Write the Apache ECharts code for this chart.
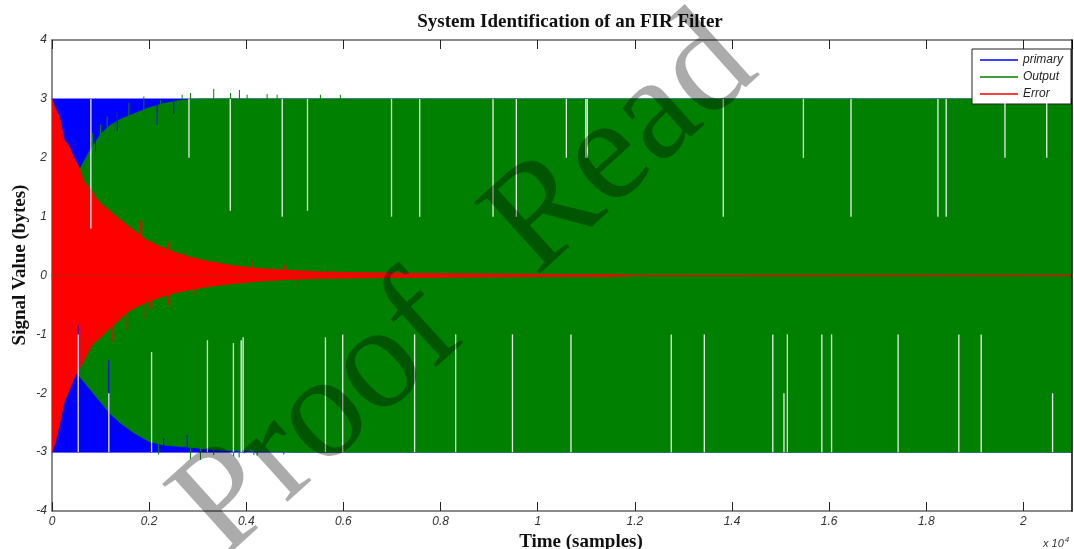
<!DOCTYPE html>
<html>
<head>
<meta charset="utf-8">
<script src="https://cdn.jsdelivr.net/npm/echarts@6/dist/echarts.min.js"></script>
<style>
html, body { margin: 0; padding: 0; background: #fff; }
#chart { width: 1074px; height: 549px; }
</style>
</head>
<body>
<div id="chart"></div>
<script>
// envelopes (x in samples, y in signal value)
var primaryTime = [0, 21000];
var primaryUpper = [3, 3];
var primaryLower = [-3, -3];
// single blue spikes poking into the other traces
var primaryHairTime = [539, 1169, 2301, 2782, 895, 1342, 2164, 2507];
var primaryHairTip = [-0.85, -1.44, -2.76, -2.71, 2.1, 2.45, 2.56, 2.75];

var outputTime = [0, 400, 600, 800, 1000, 1200, 1400, 1700, 2000, 2300, 2600, 3000, 3500, 5000, 21000];
var outputUpper = [0, 1.5, 1.85, 2.15, 2.4, 2.55, 2.65, 2.75, 2.85, 2.92, 2.97, 3.0, 3.0, 3.0, 3.0];
var outputLower = [0, -1.5, -1.75, -1.95, -2.15, -2.35, -2.5, -2.68, -2.82, -2.88, -2.9, -2.93, -2.97, -3.0, -3.0];
var outputHairTime = [837, 998, 1136, 1342, 1583, 1891, 2233, 2507, 2680, 2850, 3330, 3674, 3859, 4017, 4429, 4635, 5526, 5937,
  2195, 2850, 3056, 3330, 3740, 3853, 4156, 4223, 4772];
var outputHairTip = [2.42, 2.56, 2.7, 2.79, 2.93, 3.04, 2.98, 3.0, 3.07, 3.1, 3.17, 3.1, 3.15, 3.07, 3.08, 3.07, 3.07, 3.07,
  -3.04, -3.12, -3.13, -3.05, -3.07, -3.09, -3.05, -3.06, -3.04];

var errorTime = [0, 60, 150, 250, 350, 450, 550, 650, 800, 900, 1000, 1150, 1350, 1550, 1750, 1950, 2200, 2500, 2800, 3200, 3700, 4200, 4800, 5500, 6500, 8000, 10000, 11500, 12000, 21000];
var errorUpper = [3.0, 2.85, 2.7, 2.3, 2.2, 2.0, 1.85, 1.6, 1.45, 1.32, 1.22, 1.12, 0.98, 0.85, 0.72, 0.6, 0.5, 0.4, 0.32, 0.24, 0.17, 0.12, 0.09, 0.06, 0.045, 0.03, 0.02, 0.015, 0.006, 0.006];
var errorLower = [-3.0, -2.85, -2.55, -2.15, -1.95, -1.75, -1.6, -1.45, -1.2, -1.12, -1.05, -0.92, -0.78, -0.62, -0.53, -0.45, -0.38, -0.3, -0.25, -0.19, -0.14, -0.1, -0.07, -0.05, -0.04, -0.03, -0.02, -0.015, -0.006, -0.006];
var errorHairTime = [1821, 2130, 2395, 2716, 3405, 4140, 4785, 5793, 1239, 1547, 1890, 2027, 2395, 2945, 3860, 5050];
var errorHairTip = [0.93, 0.62, 0.56, 0.41, 0.27, 0.24, 0.18, 0.16, -1.13, -0.93, -0.74, -0.56, -0.5, -0.33, -0.21, -0.15];

// white dropouts in the plotted signal
var topGapTime = [800, 2820, 3670, 4740, 5260, 6990, 7570, 9080, 9560, 10590, 10990, 11020, 13820, 15470, 16450, 18240, 18410, 19620, 20480];
var topGapEnd = [0.8, 2, 1.1, 1, 1.1, 1, 1, 1, 1, 2, 2, 2, 1, 2, 1, 1, 1, 2, 2];
var bottomGapTime = [540, 1170, 2050, 3200, 3735, 3895, 3935, 5630, 5985, 7465, 8310, 9480, 10685, 12750, 13430, 14840, 15070, 15140, 15850, 16050, 17420, 18670, 19130, 20600];
var bottomGapEnd = [-1, -2, -1.3, -1.1, -1.15, -1.1, -1.05, -1.05, -1, -1, -1, -1, -1, -1, -1, -1, -2, -1, -1, -1, -1, -1, -1, -2];

var xTickStep = 2000;
var legendNames = ['primary', 'Output', 'Error'];

function pairs(t, v) {
  return t.map(function (x, i) { return [x, v[i]]; });
}

function band(name, color, t, v, z) {
  return {
    name: name,
    type: 'line',
    data: pairs(t, v),
    symbol: 'none',
    color: color,
    lineStyle: { color: color, width: 0.8 },
    areaStyle: { color: color, opacity: 1 },
    z: z,
    silent: true
  };
}

// vertical strokes, each item is [time, from, to]
function strokes(data, color, width, z) {
  return {
    type: 'custom',
    data: data,
    encode: { x: 0, y: [1, 2] },
    z: z,
    silent: true,
    renderItem: function (params, api) {
      var p0 = api.coord([api.value(0), api.value(1)]);
      var p1 = api.coord([api.value(0), api.value(2)]);
      return {
        type: 'line',
        shape: { x1: p0[0], y1: p0[1], x2: p1[0], y2: p1[1] },
        style: { stroke: color, lineWidth: width }
      };
    }
  };
}

var gapData = topGapTime.map(function (t, i) { return [t, 3, topGapEnd[i]]; })
  .concat(bottomGapTime.map(function (t, i) { return [t, -3, bottomGapEnd[i]]; }));
var primaryHairs = primaryHairTime.map(function (t, i) { return [t, primaryHairTip[i] > 0 ? 3 : -3, primaryHairTip[i]]; });
var outputHairs = outputHairTime.map(function (t, i) { return [t, 0, outputHairTip[i]]; });
var errorHairs = errorHairTime.map(function (t, i) { return [t, 0, errorHairTip[i]]; });

var labelFont = { fontStyle: 'italic', fontFamily: 'Liberation Sans', fontSize: 12, color: '#333' };

// watermark: two words along one slanted baseline
var wmAngle = 0.735;
var wmStart = [198, 530];
var wmSecond = 420; // distance from start of "Proof" to start of "Read"
var wmStyle = { font: '148px "Liberation Serif"', fill: 'rgba(0,0,0,0.33)', align: 'left', verticalAlign: 'middle' };

var myChart = echarts.init(document.getElementById('chart'));
myChart.setOption({
  animation: false,
  title: {
    text: 'System Identification of an FIR Filter',
    left: 565,
    textAlign: 'center',
    top: 8,
    textStyle: { fontFamily: 'Liberation Serif', fontWeight: 'bold', fontSize: 19, color: '#111' }
  },
  legend: {
    data: legendNames,
    orient: 'vertical',
    right: 3,
    top: 49,
    icon: 'rect',
    itemWidth: 38,
    itemHeight: 1.5,
    itemGap: 5,
    padding: [5, 8, 4, 8],
    backgroundColor: '#fff',
    borderColor: '#222',
    borderWidth: 1,
    textStyle: { fontStyle: 'italic', fontFamily: 'Liberation Sans', fontSize: 12, color: '#222' }
  },
  grid: { left: 52, right: 2, top: 40, bottom: 38 },
  xAxis: [
    {
      type: 'value', min: 0, max: 21000, interval: xTickStep, position: 'bottom',
      axisLine: { onZero: false, lineStyle: { color: '#666', width: 1.5 } },
      axisTick: { inside: true, length: 9, lineStyle: { color: '#222' } },
      axisLabel: Object.assign({
        margin: 5,
        showMaxLabel: false,
        formatter: function (v) { return v === 0 ? '0' : String(v / 10000); }
      }, labelFont),
      splitLine: { show: false }
    },
    {
      type: 'value', min: 0, max: 21000, interval: xTickStep, position: 'top',
      axisLine: { onZero: false, lineStyle: { color: '#666', width: 1.5 } },
      axisTick: { inside: true, length: 9, lineStyle: { color: '#222' } },
      axisLabel: { show: false },
      splitLine: { show: false }
    }
  ],
  yAxis: [
    {
      type: 'value', min: -4, max: 4, interval: 1,
      axisLine: { show: true, onZero: false, lineStyle: { color: '#666', width: 1.5 } },
      axisTick: { show: false },
      axisLabel: Object.assign({ margin: 5 }, labelFont),
      splitLine: { show: false }
    },
    {
      type: 'value', min: -4, max: 4, interval: 1, position: 'right', z: 10,
      axisLine: { show: true, onZero: false, lineStyle: { color: '#000', width: 1.5 } },
      axisTick: { show: false },
      axisLabel: { show: false },
      splitLine: { show: false }
    }
  ],
  series: [
    band('primary', '#0000ff', primaryTime, primaryUpper, 2),
    band('primary', '#0000ff', primaryTime, primaryLower, 2),
    band('Output', '#008000', outputTime, outputUpper, 3),
    band('Output', '#008000', outputTime, outputLower, 3),
    strokes(outputHairs, '#008000', 1, 4),
    band('Error', '#ff0000', errorTime, errorUpper, 5),
    band('Error', '#ff0000', errorTime, errorLower, 5),
    strokes(errorHairs, '#ff0000', 1, 5),
    strokes(primaryHairs, '#0000ff', 1, 6),
    strokes(gapData, 'rgba(255,255,255,0.9)', 1.3, 7)
  ],
  graphic: [
    {
      type: 'text', x: 20, y: 265, rotation: Math.PI / 2, silent: true,
      style: { text: 'Signal Value (bytes)', font: 'bold 19px "Liberation Serif"', fill: '#111', align: 'center', verticalAlign: 'middle' }
    },
    {
      type: 'text', x: 581, y: 533, silent: true,
      style: { text: 'Time (samples)', font: 'bold 19px "Liberation Serif"', fill: '#111', align: 'center', verticalAlign: 'top' }
    },
    {
      type: 'text', x: 1043, y: 536, silent: true,
      style: {
        text: 'x 10{s|4}',
        font: 'italic 11px "Liberation Sans"',
        fill: '#333',
        verticalAlign: 'top',
        rich: { s: { fontSize: 8, fontStyle: 'italic', fontFamily: 'Liberation Sans', verticalAlign: 'top', padding: [0, 0, 8, 1], fill: '#333' } }
      }
    },
    {
      type: 'text', x: wmStart[0], y: wmStart[1], rotation: wmAngle, z: 100, silent: true,
      style: Object.assign({ text: 'Proof' }, wmStyle)
    },
    {
      type: 'text',
      x: wmStart[0] + wmSecond * Math.cos(wmAngle),
      y: wmStart[1] - wmSecond * Math.sin(wmAngle),
      rotation: wmAngle, z: 100, silent: true,
      style: Object.assign({ text: 'Read' }, wmStyle)
    }
  ]
});
</script>
</body>
</html>
